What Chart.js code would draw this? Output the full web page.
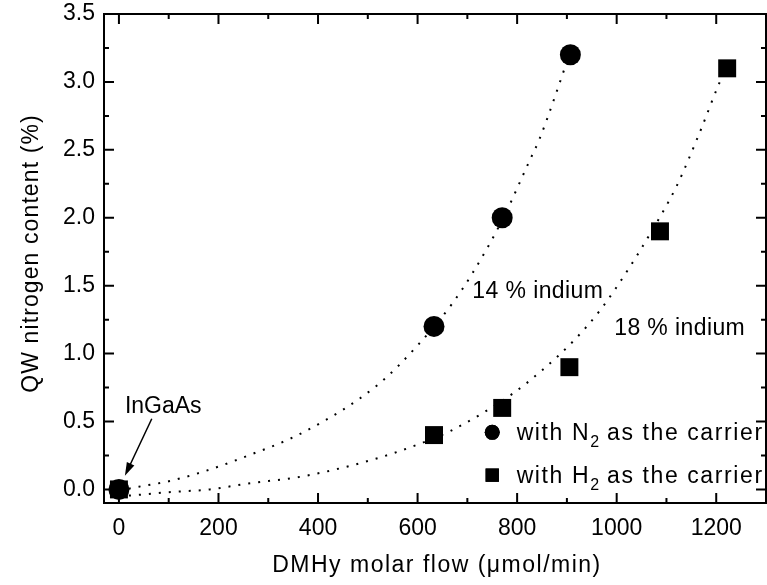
<!DOCTYPE html>
<html>
<head>
<meta charset="utf-8">
<script src="https://cdn.jsdelivr.net/npm/chart.js@4.4.0/dist/chart.umd.min.js"></script>
<style>
  html, body { margin: 0; padding: 0; background: #fff; }
  #wrap { width: 767px; height: 585px; position: relative; }
</style>
</head>
<body>
<div id="wrap"><canvas id="c"></canvas></div>
<script>
// measured points
const nFlow = [0, 633, 770, 907];
const nContent = [0, 1.2, 2.0, 3.2];
const hFlow = [0, 633, 770, 905, 1087, 1222];
const hContent = [0, 0.4, 0.6, 0.9, 1.9, 3.1];

// dotted fit curves
const nFitFlow = [0, 40, 100, 169, 253, 370, 520, 600, 668, 710, 771, 825, 845, 905];
const nFitContent = [-0.01, 0.02, 0.06, 0.13, 0.24, 0.42, 0.77, 1.06, 1.36, 1.59, 1.99, 2.42, 2.58, 3.2];
const hFitFlow = [0, 40, 100, 183, 253, 375, 520, 600, 666, 789, 851, 915, 969, 1025, 1062, 1120, 1166, 1206, 1222];
const hFitContent = [-0.05, -0.04, -0.02, 0.0, 0.04, 0.10, 0.23, 0.33, 0.43, 0.70, 0.88, 1.10, 1.33, 1.63, 1.85, 2.23, 2.62, 2.99, 3.12];

const xTicks = [0, 200, 400, 600, 800, 1000, 1200];
const yTicks = [0, 0.5, 1.0, 1.5, 2.0, 2.5, 3.0, 3.5];

const FONT = '"Liberation Sans", Arial, sans-serif';

const pts = (xs, ys) => xs.map((x, i) => ({ x, y: ys[i] }));

function text(ctx, str, x, y, size, spacing) {
  ctx.font = size + "px " + FONT;
  ctx.letterSpacing = (spacing || 0) + "px";
  ctx.fillText(str, x, y);
  const w = ctx.measureText(str).width;
  ctx.letterSpacing = "0px";
  return w;
}

const framePlugin = {
  id: "frame",
  afterDraw(chart) {
    const { ctx, chartArea: a, scales } = chart;
    const xs = scales.x, ys = scales.y;
    ctx.save();
    ctx.strokeStyle = "#000";
    ctx.fillStyle = "#000";
    ctx.lineWidth = 2;
    ctx.strokeRect(a.left, a.top, a.right - a.left, a.bottom - a.top);

    const major = 10, minor = 5;
    const xMinor = [], yMinor = [];
    for (let i = 0; i < xTicks.length - 1; i++) xMinor.push((xTicks[i] + xTicks[i + 1]) / 2);
    xMinor.push(xTicks[xTicks.length - 1] + (xTicks[1] - xTicks[0]) / 2);
    for (let i = 0; i < yTicks.length - 1; i++) yMinor.push((yTicks[i] + yTicks[i + 1]) / 2);

    ctx.beginPath();
    const xTick = (v, len) => {
      if (v <= xs.min || v >= xs.max) return;
      const px = xs.getPixelForValue(v);
      ctx.moveTo(px, a.bottom); ctx.lineTo(px, a.bottom - len);
      ctx.moveTo(px, a.top); ctx.lineTo(px, a.top + len);
    };
    const yTick = (v, len) => {
      if (v <= ys.min || v >= ys.max) return;
      const py = ys.getPixelForValue(v);
      ctx.moveTo(a.left, py); ctx.lineTo(a.left + len, py);
      ctx.moveTo(a.right, py); ctx.lineTo(a.right - len, py);
    };
    xTicks.forEach((v) => xTick(v, major));
    xMinor.forEach((v) => xTick(v, minor));
    yTicks.forEach((v) => yTick(v, major));
    yMinor.forEach((v) => yTick(v, minor));
    ctx.stroke();

    // axis titles
    ctx.textBaseline = "alphabetic";
    ctx.textAlign = "center";
    text(ctx, "DMHy molar flow (\u03bcmol/min)", (a.left + a.right) / 2 + 2, 572, 23, 1.5);
    ctx.save();
    ctx.translate(38, (a.top + a.bottom) / 2 - 5);
    ctx.rotate(-Math.PI / 2);
    text(ctx, "QW nitrogen content (%)", 0, 0, 23, 1.1);
    ctx.restore();

    // annotations
    const X = (v) => xs.getPixelForValue(v);
    const Y = (v) => ys.getPixelForValue(v);
    ctx.textAlign = "left";
    text(ctx, "14 % indium", X(710), Y(1.41), 23, 0.4);
    text(ctx, "18 % indium", X(995), Y(1.135), 23, 0.4);
    text(ctx, "InGaAs", X(12), Y(0.56), 23, 0);

    // arrow to the InGaAs point
    const x1 = X(66), y1 = Y(0.52), x2 = X(12), y2 = Y(0.10);
    const ang = Math.atan2(y2 - y1, x2 - x1);
    ctx.lineWidth = 1.5;
    ctx.beginPath();
    ctx.moveTo(x1, y1);
    ctx.lineTo(x2 - Math.cos(ang) * 10, y2 - Math.sin(ang) * 10);
    ctx.stroke();
    ctx.beginPath();
    ctx.moveTo(x2, y2);
    ctx.lineTo(x2 - Math.cos(ang - 0.3) * 14, y2 - Math.sin(ang - 0.3) * 14);
    ctx.lineTo(x2 - Math.cos(ang + 0.3) * 14, y2 - Math.sin(ang + 0.3) * 14);
    ctx.closePath();
    ctx.fill();

    // legend
    const mx = X(750), tx = X(799);
    const rows = [
      { y: 0.42, style: "circle", r: 7.5, sub: "N" },
      { y: 0.105, style: "rect", r: 9.4, sub: "H" },
    ];
    rows.forEach((row) => {
      const py = Y(row.y);
      Chart.helpers.drawPoint(ctx, { pointStyle: row.style, radius: row.r, borderWidth: 0 }, mx, py);
      ctx.fill();
      const base = py + 8;
      let x = tx;
      x += text(ctx, "with " + row.sub, x, base, 23, 1.6);
      x += text(ctx, "2", x, base + 7, 16, 0);
      text(ctx, " as the carrier", x, base, 23, 1.6);
    });
    ctx.restore();
  },
};

new Chart(document.getElementById("c"), {
  type: "scatter",
  data: {
    datasets: [
      {
        label: "with N2 as the carrier",
        data: pts(nFlow, nContent),
        pointStyle: "circle",
        pointRadius: 10.5,
        backgroundColor: "#000",
        borderWidth: 0,
      },
      {
        label: "with H2 as the carrier",
        data: pts(hFlow, hContent),
        pointStyle: "rect",
        pointRadius: 12.7,
        backgroundColor: "#000",
        borderWidth: 0,
      },
      {
        label: "14 % indium fit",
        data: pts(nFitFlow, nFitContent),
        showLine: true,
        pointRadius: 0,
        borderColor: "#000",
        borderWidth: 2,
        borderDash: [2, 8],
        cubicInterpolationMode: "monotone",
      },
      {
        label: "18 % indium fit",
        data: pts(hFitFlow, hFitContent),
        showLine: true,
        pointRadius: 0,
        borderColor: "#000",
        borderWidth: 2,
        borderDash: [2, 8],
        cubicInterpolationMode: "monotone",
      },
    ],
  },
  options: {
    responsive: true,
    maintainAspectRatio: false,
    animation: false,
    layout: { autoPadding: false, padding: { top: 14, right: 1, left: 0, bottom: 0 } },
    plugins: {
      legend: { display: false },
      tooltip: { enabled: false },
    },
    scales: {
      x: {
        type: "linear",
        min: -30,
        max: 1300,
        afterBuildTicks: (s) => { s.ticks = xTicks.map((v) => ({ value: v })); },
        afterFit: (s) => { s.height = 82; s.paddingLeft = 0; s.paddingRight = 0; },
        grid: { display: false, drawTicks: false },
        border: { display: false },
        ticks: {
          autoSkip: false,
          padding: 12,
          color: "#000",
          font: { family: FONT, size: 23 },
          callback: (v) => String(v),
        },
      },
      y: {
        type: "linear",
        min: -0.1,
        max: 3.5,
        afterBuildTicks: (s) => { s.ticks = yTicks.map((v) => ({ value: v })); },
        afterFit: (s) => { s.width = 104; s.paddingTop = 0; s.paddingBottom = 0; },
        grid: { display: false, drawTicks: false },
        border: { display: false },
        ticks: {
          autoSkip: false,
          padding: 9,
          color: "#000",
          font: { family: FONT, size: 23 },
          callback: (v) => Number(v).toFixed(1),
        },
      },
    },
  },
  plugins: [framePlugin],
});
</script>
</body>
</html>
